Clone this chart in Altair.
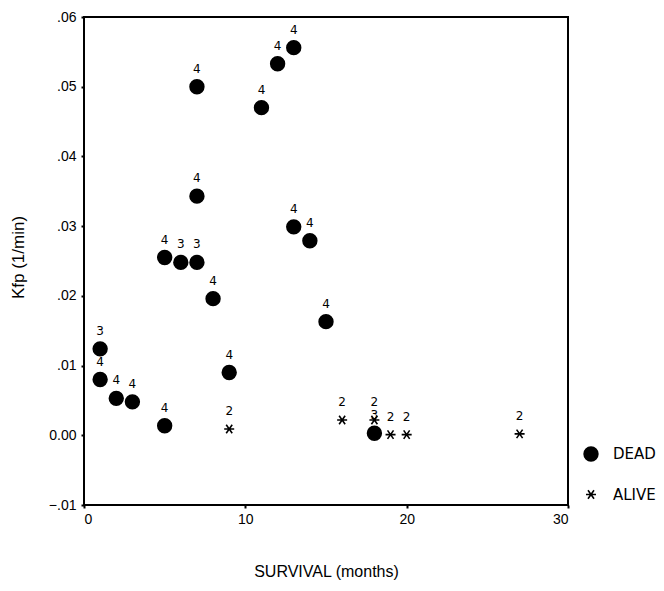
import altair as alt
import pandas as pd

# DEAD patients
dead_survival = [1, 1, 2, 3, 5, 5, 6, 7, 7, 7, 8, 9, 11, 12, 13, 13, 14, 15, 18]
dead_kfp = [0.0124, 0.0080, 0.0053, 0.0048, 0.00137, 0.0255, 0.0248, 0.0248, 0.0343, 0.0500,
            0.0196, 0.0090, 0.0470, 0.0533, 0.0556, 0.0299, 0.0279, 0.0163, 0.0003]
dead_labels = ["3", "4", "4", "4", "4", "4", "3", "3", "4", "4",
               "4", "4", "4", "4", "4", "4", "4", "4", "3"]

# ALIVE patients
alive_survival = [9, 16, 18, 19, 20, 27]
alive_kfp = [0.0009, 0.0022, 0.0022, 0.0001, 0.0001, 0.0002]
alive_labels = ["2", "2", "2", "2", "2", "2"]

x_ticks = [0, 10, 20, 30]
y_ticks = [-0.01, 0.0, 0.01, 0.02, 0.03, 0.04, 0.05, 0.06]
statuses = ["DEAD", "ALIVE"]

df = pd.DataFrame({
    "survival": dead_survival + alive_survival,
    "kfp": dead_kfp + alive_kfp,
    "label": dead_labels + alive_labels,
    "status": ["DEAD"] * len(dead_survival) + ["ALIVE"] * len(alive_survival),
})

asterisk = "M-1,0L1,0M-0.6,-0.85L0.6,0.85M-0.6,0.85L0.6,-0.85"

x_enc = alt.X("survival:Q",
              scale=alt.Scale(domain=[0, 30], nice=False, zero=False),
              axis=alt.Axis(values=x_ticks, title="SURVIVAL (months)", grid=False,
                            domain=False, tickSize=3, tickWidth=2, tickColor="black",
                            labelFont="Liberation Sans", labelFontSize=14, labelColor="black",
                            labelPadding=4,
                            titleFont="Liberation Sans", titleFontSize=16, titleFontWeight="normal",
                            titleColor="black", titleY=66, titleBaseline="middle"))
y_enc = alt.Y("kfp:Q",
              scale=alt.Scale(domain=[-0.01, 0.06], nice=False, zero=False),
              axis=alt.Axis(values=y_ticks, title="Kfp (1/min)", grid=False,
                            domain=False, tickSize=3, tickWidth=2, tickColor="black",
                            labelExpr="abs(datum.value) < 1e-9 ? '0.00' : replace(format(datum.value, '.2f'), '0.', '.')",
                            labelFont="Liberation Sans", labelFontSize=14, labelColor="black",
                            labelPadding=5,
                            titleFont="Liberation Sans", titleFontSize=17, titleFontWeight="normal",
                            titleColor="black", titleX=-66, titleY=240, titleBaseline="middle"))

points = alt.Chart(df).mark_point(strokeWidth=1.6, opacity=1, stroke="black").encode(
    x=x_enc,
    y=y_enc,
    shape=alt.Shape("status:N", scale=alt.Scale(domain=statuses, range=["circle", asterisk]),
                    legend=alt.Legend(title=None, orient="none", legendX=499, legendY=429,
                                      labelFont="DejaVu Sans", labelFontSize=15, labelColor="black",
                                      labelOffset=14, rowPadding=22, symbolStrokeColor="black",
                                      symbolStrokeWidth=1.6, symbolOpacity=1)),
    fill=alt.Fill("status:N", scale=alt.Scale(domain=statuses, range=["black", "transparent"]),
                  legend=alt.Legend(title=None, orient="none", legendX=499, legendY=429)),
    size=alt.Size("status:N", scale=alt.Scale(domain=statuses, range=[190, 100]),
                  legend=alt.Legend(title=None, orient="none", legendX=499, legendY=429)),
)

labels = alt.Chart(df).mark_text(dy=-18, font="DejaVu Sans", fontSize=12, color="black").encode(
    x="survival:Q",
    y="kfp:Q",
    text="label:N",
)

chart = alt.layer(points, labels).properties(
    width=484,
    height=488,
    autosize=alt.AutoSizeParams(type="none"),
    padding={"left": 76, "top": 9, "right": 88, "bottom": 78},
    background="white",
).configure_view(stroke="black", strokeWidth=2)

chart.save("out.html", embed_options={"renderer": "svg", "actions": False})
